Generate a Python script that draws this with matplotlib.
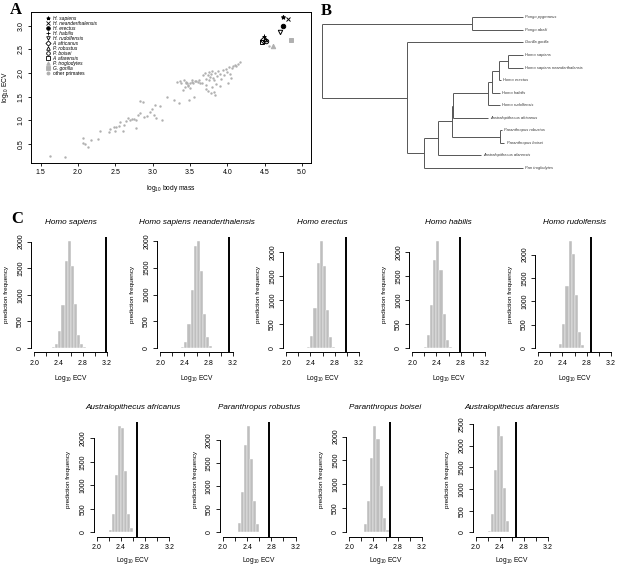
import numpy as np
import matplotlib.pyplot as plt
from matplotlib.lines import Line2D

plt.rcParams['font.family'] = ['Liberation Sans', 'DejaVu Sans']
plt.rcParams['mathtext.default'] = 'regular'

W, H = 617, 567
fig = plt.figure(figsize=(W / 100, H / 100), dpi=100)

def px_axes(left, top, width, height):
    return fig.add_axes([left / W, 1 - (top + height) / H, width / W, height / H])

# ---------------- panel A data ----------------
other_x = [1.62, 1.83, 2.07, 2.06, 2.09, 2.14, 2.17, 2.27, 2.29, 2.41, 2.43, 2.48, 2.50,
           2.51, 2.55, 2.56, 2.60, 2.62, 2.64, 2.67, 2.70, 2.72, 2.75, 2.77, 2.78, 2.80,
           2.83, 2.87, 2.83, 2.88, 2.93, 2.97, 2.99, 3.02, 3.03, 3.05, 3.10, 3.12, 3.19,
           3.28, 3.35, 3.40, 3.44, 3.46, 3.48, 3.55, 3.32, 3.36, 3.38, 3.42, 3.45, 3.47,
           3.50, 3.52, 3.54, 3.57, 3.60, 3.62, 3.64, 3.43, 3.47, 3.50, 3.53, 3.58, 3.66,
           3.68, 3.70, 3.71, 3.72, 3.74, 3.75, 3.76, 3.77, 3.78, 3.79, 3.80, 3.81, 3.82,
           3.84, 3.85, 3.86, 3.88, 3.90, 3.92, 3.94, 3.96, 3.98, 4.00, 4.02, 4.04, 4.06,
           4.08, 4.10, 4.12, 4.14, 4.17, 3.74, 3.78, 3.82, 3.84, 3.72, 3.90, 4.01, 4.05,
           4.56]
other_y = [0.25, 0.23, 0.63, 0.53, 0.50, 0.43, 0.58, 0.60, 0.77, 0.76, 0.82, 0.86, 0.77,
           0.87, 0.88, 0.97, 0.77, 0.90, 0.98, 1.05, 1.00, 1.03, 1.02, 0.84, 1.01, 1.12,
           1.42, 1.39, 1.16, 1.08, 1.10, 1.17, 1.25, 1.11, 1.32, 1.06, 1.30, 1.00, 1.50,
           1.43, 1.36, 1.65, 1.80, 1.78, 1.43, 1.49, 1.81, 1.84, 1.78, 1.86, 1.82, 1.72,
           1.80, 1.85, 1.79, 1.83, 1.81, 1.86, 1.78, 1.70, 1.75, 1.68, 1.82, 1.84, 1.80,
           1.96, 2.00, 1.88, 1.74, 1.95, 2.02, 1.85, 1.92, 1.98, 1.70, 2.05, 1.90, 1.86,
           2.00, 1.76, 1.93, 2.04, 1.98, 1.88, 2.06, 1.95, 2.08, 2.02, 2.12, 1.97, 2.10,
           2.15, 2.18, 2.14, 2.20, 2.24, 1.62, 1.58, 1.60, 1.54, 1.66, 1.72, 1.80, 1.90,
           2.57]

hominin_names = ['H. sapiens', 'H. neanderthalensis', 'H. erectus', 'H. habilis',
                 'H. rudolfensis', 'A. africanus', 'P. robustus', 'P. boisei',
                 'A. afarensis', 'P. troglodytes', 'G. gorilla']
hominin_x = [4.745, 4.808, 4.75, 4.495, 4.70, 4.48, 4.509, 4.52, 4.464, 4.61, 4.85]
hominin_y = [3.176, 3.148, 2.986, 2.79, 2.86, 2.70, 2.73, 2.68, 2.66, 2.57, 2.70]
hominin_marker = ['*', 'x', 'o', '+', 'v', 'D', '^', 'o', 's', '^', 's']
hominin_fill = ['black', 'black', 'black', 'black', 'none', 'none', 'none', 'none',
                'none', '#b0b0b0', '#b0b0b0']
hominin_edge = ['black'] * 9 + ['#b0b0b0', '#b0b0b0']

# ---------------- panel B data ----------------
tip_names = ['Pongo pygmaeus', 'Pongo abelii', 'Gorilla gorilla', 'Homo sapiens',
             'Homo sapiens neanderthalensis', 'Homo erectus', 'Homo habilis',
             'Homo rudolfensis', 'Australopithecus africanus', 'Paranthropus robustus',
             'Paranthropus boisei', 'Australopithecus afarensis', 'Pan troglodytes']
tip_depth = [1.0, 1.0, 1.0, 1.0, 1.0, 0.891, 0.886, 0.886, 0.826, 0.896, 0.908, 0.791, 1.0]
# internal nodes: (depth, children) ; children are tip indices or nested nodes
tree = (0.0, [(0.747, [0, 1]),
              (0.424, [2,
                       (0.508, [(0.576, [(0.646, [(0.650, [(0.825, [(0.845, [(0.882, [(0.927, [3, 4]), 5]), 6]), 7]), 8]),
                                                  (0.886, [9, 10])]),
                                         11]),
                                12])])])

# ---------------- panel C data ----------------
hist_names = ['Homo sapiens', 'Homo sapiens neanderthalensis', 'Homo erectus',
              'Homo habilis', 'Homo rudolfensis', 'Australopithecus africanus',
              'Paranthropus robustus', 'Paranthropus boisei', 'Australopithecus afarensis']
bin_start = [2.30, 2.35, 2.35, 2.20, 2.35, 2.20, 2.20, 2.20, 2.20]
bin_width = 0.05
hist_counts = [
    [10, 70, 320, 810, 1630, 2010, 1540, 830, 250, 70, 10],
    [20, 120, 450, 1080, 1900, 2000, 1430, 640, 200, 30],
    [30, 250, 830, 1780, 2240, 1710, 800, 230, 30],
    [30, 270, 890, 1850, 2240, 1630, 710, 160, 20],
    [80, 520, 1330, 2290, 2010, 1140, 350, 65],
    [60, 400, 1220, 2260, 2210, 1300, 390, 90],
    [20, 210, 870, 1890, 2310, 1600, 690, 180, 20],
    [15, 170, 660, 1560, 2220, 1940, 970, 300, 60],
    [40, 415, 1440, 2450, 2230, 1015, 270],
]
observed_ecv = [3.19, 3.145, 2.98, 2.785, 2.868, 2.667, 2.754, 2.678, 2.661]
x_ticks = [2.0, 2.2, 2.4, 2.6, 2.8, 3.0, 3.2]
x_ticklabels = ['2.0', '', '2.4', '', '2.8', '', '3.2']

grey = '#b0b0b0'

# ================= A =================
axA = px_axes(31, 12, 280, 151)
axA.scatter(other_x, other_y, s=3, color=grey, linewidths=0, zorder=2)
for x, y, m, fc, ec in zip(hominin_x, hominin_y, hominin_marker, hominin_fill, hominin_edge):
    axA.plot([x], [y], linestyle='none', marker=m, ms=3.2, mfc=fc, mec=ec, mew=0.7, zorder=3)
axA.set_xlim(1.37, 5.12)
axA.set_ylim(0.10, 3.29)
axA.set_xticks([1.5, 2.0, 2.5, 3.0, 3.5, 4.0, 4.5, 5.0])
axA.set_yticks([0.5, 1.0, 1.5, 2.0, 2.5, 3.0])
axA.tick_params(direction='out', length=2.5, width=0.6, labelsize=5, pad=2)
for lab in axA.get_yticklabels():
    lab.set_rotation(90)
    lab.set_va('center')
for sp in axA.spines.values():
    sp.set_linewidth(0.7)
axA.set_xlabel('log$_{10}$ body mass', fontsize=4.8, labelpad=5)
axA.set_ylabel('log$_{10}$ ECV', fontsize=4.8, labelpad=5)

handles = []
for m, fc, ec in zip(hominin_marker, hominin_fill, hominin_edge):
    handles.append(Line2D([], [], linestyle='none', marker=m, ms=2.6, mfc=fc, mec=ec, mew=0.6))
handles.append(Line2D([], [], linestyle='none', marker='o', ms=1.8, mfc=grey, mec=grey))
leg = axA.legend(handles, hominin_names + ['other primates'], loc='upper left',
                 bbox_to_anchor=(0.055, 0.975), frameon=False, fontsize=3.5,
                 handlelength=0.8, handletextpad=0.5, labelspacing=0.0, borderpad=0,
                 borderaxespad=0)
for t in leg.get_texts()[:-1]:
    t.set_style('italic')

# ================= B =================
axB = px_axes(315, 10, 302, 165)
axB.set_axis_off()
axB.set_xlim(-0.0333, 1.467)
axB.set_ylim(12.556, -0.581)
tree_col = '#555555'

def draw(node):
    depth, kids = node
    ys = []
    for k in kids:
        if isinstance(k, tuple):
            y = draw(k)
            end = k[0]
        else:
            y = k
            end = tip_depth[k]
        axB.plot([depth, end], [y, y], color=tree_col, lw=0.7, solid_capstyle='butt')
        ys.append(y)
    axB.plot([depth, depth], [min(ys), max(ys)], color=tree_col, lw=0.7, solid_capstyle='butt')
    return (min(ys) + max(ys)) / 2

draw(tree)
for i, name in enumerate(tip_names):
    axB.text(tip_depth[i] + 0.012, i, name, fontsize=2.9, style='italic',
             va='center', ha='left', color='#333333')

# ================= C =================
positions = [(31.4 + 126 * i, 236.7, 115.6) for i in range(5)] + \
            [(93.8 + 126.3 * i, 421.7, 115.0) for i in range(4)]
for k, (left, top, hgt) in enumerate(positions):
    ax = px_axes(left, top, 78.3, hgt)
    counts = hist_counts[k]
    edges = bin_start[k] + bin_width * np.arange(len(counts))
    ax.bar(edges, counts, width=bin_width, align='edge', color='#bebebe',
           edgecolor='white', linewidth=0.3)
    ymax = max(counts)
    ax.set_ylim(-0.04 * ymax, 1.04 * ymax)
    ax.set_xlim(1.952, 3.248)
    ax.axvline(observed_ecv[k], color='black', lw=1.4)
    yt = [v for v in range(0, 3001, 500) if v <= 1.04 * ymax]
    ax.set_yticks(yt)
    ax.set_yticklabels([str(v) for v in yt], rotation=90, va='center')
    ax.set_xticks(x_ticks)
    ax.set_xticklabels(x_ticklabels)
    for s in ['top', 'right']:
        ax.spines[s].set_visible(False)
    ax.spines['left'].set_bounds(0, yt[-1])
    ax.spines['bottom'].set_bounds(2.0, 3.2)
    for s in ['left', 'bottom']:
        ax.spines[s].set_linewidth(0.7)
    ax.tick_params(direction='out', length=3, width=0.6, labelsize=5, pad=2.2)
    ax.set_title(hist_names[k], fontsize=5.9, style='italic', pad=9)
    ax.set_xlabel('Log$_{10}$ ECV', fontsize=4.8, labelpad=5 if k < 5 else 3)
    ax.set_ylabel('prediction frequency', fontsize=4.6, labelpad=6)

for letter, x, y in [('A', 10, 2), ('B', 321, 3), ('C', 11, 211)]:
    fig.text(x / W, 1 - y / H, letter, fontsize=12, fontweight='bold',
             family='Liberation Serif', va='top', ha='left')

fig.savefig('out.png', dpi=100)
